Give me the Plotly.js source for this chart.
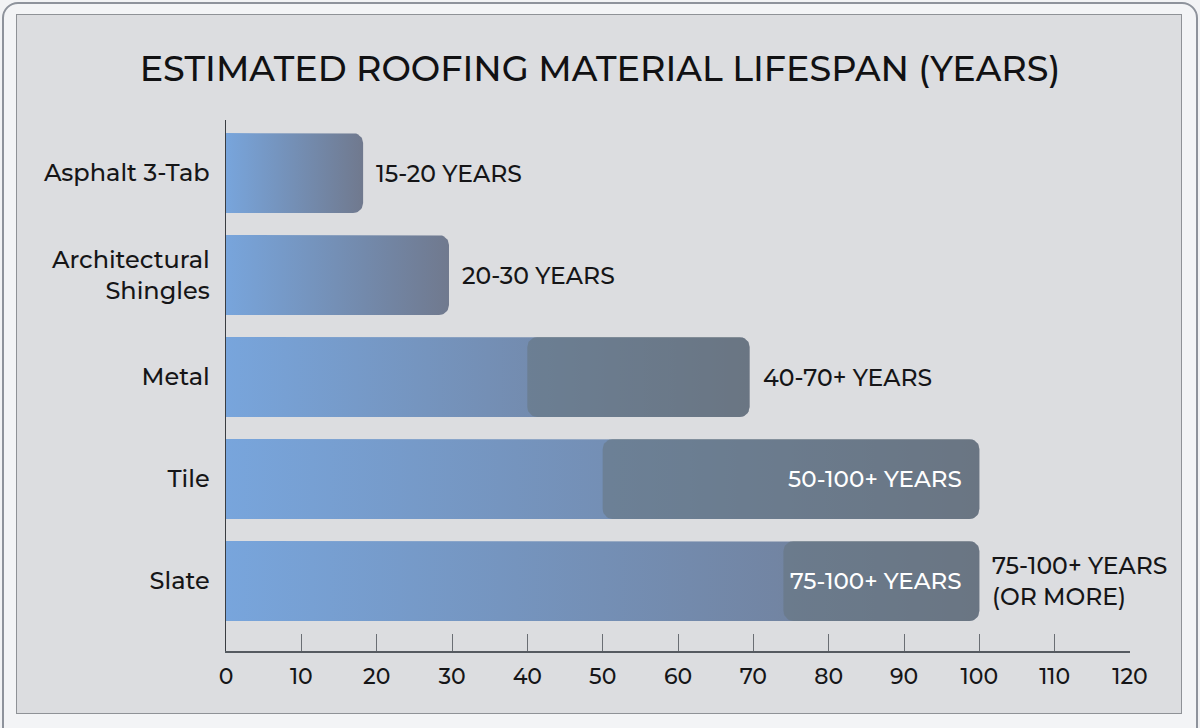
<!DOCTYPE html>
<html>
<head>
<meta charset="utf-8">
<script src="https://cdn.plot.ly/plotly-3.0.1.min.js"></script>
<style>
  html, body { margin: 0; padding: 0; width: 1200px; height: 728px; overflow: hidden; background: #f2f3f5; }
  #frame { position: absolute; left: 2px; top: 2px; width: 1192px; height: 740px; border: 2px solid #8e939c; border-radius: 16px; background: #f3f4f6; }
  #panel { position: absolute; left: 16px; top: 14px; width: 1164px; height: 698px; border: 1.5px solid #8f9297; background: #dcdde0; }
  #chart { position: absolute; left: 0; top: 0; width: 1200px; height: 728px; }
</style>
</head>
<body>
<div id="frame"></div>
<div id="panel"></div>
<div id="chart"></div>
<script>
// ---- data ----
const categories = ["Asphalt 3-Tab", "Architectural<br>Shingles", "Metal", "Tile", "Slate"];
const barEnd = [18.2, 29.6, 69.5, 100, 100];          // end of bar (years)
const overlayStart = [null, null, 40, 50, 74];        // start of darker range segment
const outsideLabels = ["15-20 YEARS", "20-30 YEARS", "40-70+ YEARS", "", "75-100+ YEARS<br>(OR MORE)"];
const insideLabels = ["", "", "", "50-100+ YEARS", "75-100+ YEARS"];
const xTickVals = [0, 10, 20, 30, 40, 50, 60, 70, 80, 90, 100, 110, 120];

// ---- geometry helpers (style only) ----
const W = 1200, H = 728;
const M = { l: 226, r: 70, t: 120, b: 77 };
const xRange = [0, 120];
const yRange = [4.686, -0.52];
const pxX = (W - M.l - M.r) / (xRange[1] - xRange[0]);
const pxY = (H - M.t - M.b) / Math.abs(yRange[0] - yRange[1]);
const halfH = 0.392;
const FONT = "Montserrat, Inter, 'Open Sans', sans-serif";
const INK = "#151517";

function roundedBar(x0, x1, yc, rPx, roundLeft) {
  const rx = rPx / pxX, ry = rPx / pxY;
  const xs = [], ys = [];
  const top = yc - halfH, bot = yc + halfH;
  const n = 10;
  if (roundLeft) {
    for (let i = 0; i <= n; i++) {
      const a = Math.PI + (Math.PI / 2) * (i / n);
      xs.push(x0 + rx + rx * Math.cos(a)); ys.push(top + ry + ry * Math.sin(a));
    }
  } else { xs.push(x0); ys.push(top); }
  for (let i = 0; i <= n; i++) {
    const a = -Math.PI / 2 + (Math.PI / 2) * (i / n);
    xs.push(x1 - rx + rx * Math.cos(a)); ys.push(top + ry + ry * Math.sin(a));
  }
  for (let i = 0; i <= n; i++) {
    const a = (Math.PI / 2) * (i / n);
    xs.push(x1 - rx + rx * Math.cos(a)); ys.push(bot - ry + ry * Math.sin(a));
  }
  if (roundLeft) {
    for (let i = 0; i <= n; i++) {
      const a = Math.PI / 2 + (Math.PI / 2) * (i / n);
      xs.push(x0 + rx + rx * Math.cos(a)); ys.push(bot - ry + ry * Math.sin(a));
    }
  } else { xs.push(x0); ys.push(bot); }
  xs.push(xs[0]); ys.push(ys[0]);
  return { xs, ys };
}

const traces = [];
categories.forEach((c, i) => {
  const g = roundedBar(0, barEnd[i], i, 10, false);
  traces.push({
    type: "scatter", mode: "lines", x: g.xs, y: g.ys, fill: "toself",
    line: { width: 0, color: "rgba(0,0,0,0)" },
    fillcolor: "#7390b6",
    fillgradient: { type: "horizontal", start: 0, stop: barEnd[i],
      colorscale: [[0, "rgb(120,165,220)"], [1, "rgb(112,121,142)"]] },
    hoverinfo: "skip", showlegend: false
  });
});
categories.forEach((c, i) => {
  if (overlayStart[i] === null) return;
  const g = roundedBar(overlayStart[i], barEnd[i], i, 10, true);
  traces.push({
    type: "scatter", mode: "lines", x: g.xs, y: g.ys, fill: "toself",
    line: { width: 0, color: "rgba(0,0,0,0)" },
    fillcolor: "rgba(100,114,120,0.5)",
    hoverinfo: "skip", showlegend: false
  });
});

const annotations = [];
categories.forEach((c, i) => {
  if (outsideLabels[i]) {
    annotations.push({ x: barEnd[i], y: i, xref: "x", yref: "y", text: outsideLabels[i],
      showarrow: false, xanchor: "left", yanchor: "middle", align: "left", xshift: 11,
      font: { family: FONT, size: 23.5, color: INK, weight: 500 } });
  }
  if (insideLabels[i]) {
    annotations.push({ x: barEnd[i], y: i, xref: "x", yref: "y", text: insideLabels[i],
      showarrow: false, xanchor: "right", yanchor: "middle", align: "right", xshift: -15,
      font: { family: FONT, size: 23, color: "#ffffff", weight: 500 } });
  }
});

const layout = {
  width: W, height: H,
  margin: M,
  paper_bgcolor: "rgba(0,0,0,0)", plot_bgcolor: "rgba(0,0,0,0)",
  font: { family: FONT, color: INK },
  title: { text: "ESTIMATED ROOFING MATERIAL LIFESPAN (YEARS)", x: 0.5, xanchor: "center",
    y: 1 - 69 / H, yref: "container", yanchor: "middle",
    font: { family: FONT, size: 35, color: "#111113", weight: 500 } },
  xaxis: { range: xRange, tickvals: xTickVals, ticktext: xTickVals.map(String),
    showgrid: false, zeroline: false, showline: true, linecolor: "#555a60", linewidth: 1.5,
    ticks: "inside", ticklen: 17, tickcolor: "#6a6e74", tickwidth: 1,
    tickfont: { family: FONT, size: 22, color: INK, weight: 500 }, ticklabelstandoff: 5, fixedrange: true },
  yaxis: { range: yRange, tickvals: categories.map((c, i) => i), ticktext: categories,
    showgrid: false, zeroline: false, showline: true, linecolor: "#3a3d42", linewidth: 1.5,
    ticks: "", tickfont: { family: FONT, size: 24, color: INK, weight: 500 }, ticklabelstandoff: 10, fixedrange: true },
  annotations: annotations,
  showlegend: false
};

Plotly.newPlot("chart", traces, layout, { displayModeBar: false, staticPlot: true });
</script>
</body>
</html>
